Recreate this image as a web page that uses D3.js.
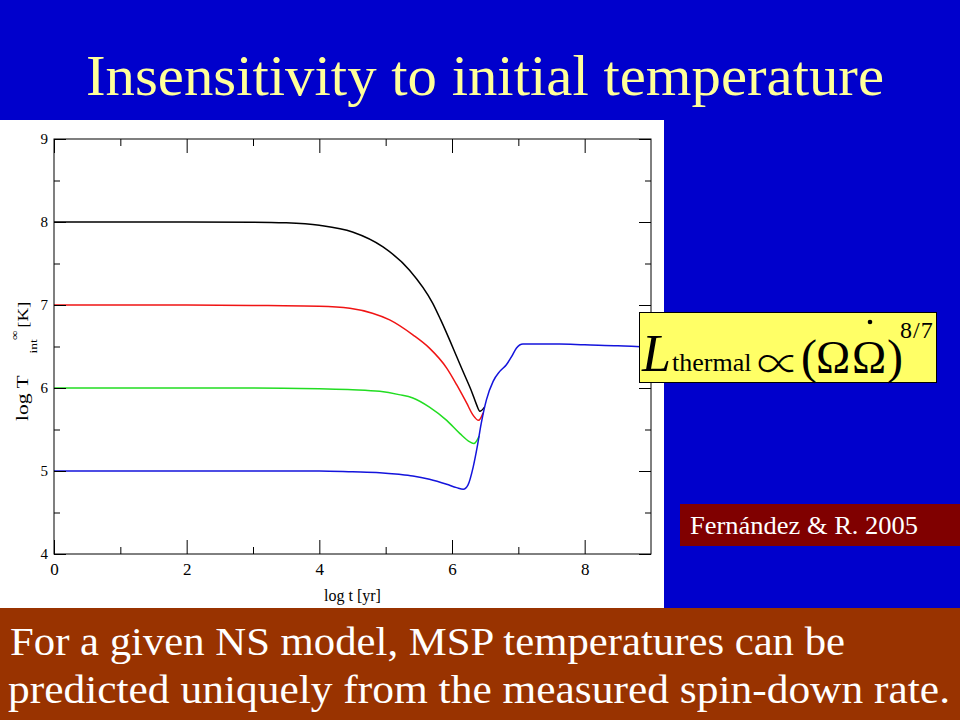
<!DOCTYPE html>
<html>
<head>
<meta charset="utf-8">
<script src="https://cdn.jsdelivr.net/npm/d3@7"></script>
<style>
html,body{margin:0;padding:0;background:#0000CC;}
svg{display:block;}
text{font-family:"Liberation Serif","Times New Roman",serif;}
</style>
</head>
<body>
<svg id="c" width="960" height="720"></svg>
<script>
// ---- data ----
const xTicksMajor = [0, 2, 4, 6, 8];
const xTicksMinor = [1, 3, 5, 7];
const yTicksMajor = [4, 5, 6, 7, 8, 9];
const yTicksMinor = [4.5, 5.5, 6.5, 7.5, 8.5];

const tBlack = [0, 1, 2, 3, 3.5, 4, 4.5, 4.96, 5.36, 5.71, 5.83, 6.07, 6.16, 6.3, 6.37, 6.42, 6.49];
const TBlack = [8, 8, 8, 7.998, 7.99, 7.96, 7.88, 7.7, 7.42, 7.02, 6.82, 6.38, 6.21, 5.95, 5.8, 5.72, 5.77];

const tRed = [0, 1, 2, 3, 4, 4.46, 4.8, 5.06, 5.41, 5.66, 5.92, 6.07, 6.22, 6.32, 6.4, 6.47];
const TRed = [7, 7, 7, 6.995, 6.985, 6.96, 6.9, 6.82, 6.64, 6.48, 6.24, 6.04, 5.82, 5.67, 5.61, 5.7];

const tGreen = [0, 1, 2, 3, 4, 4.5, 4.91, 5.2, 5.41, 5.66, 5.92, 6.12, 6.27, 6.33, 6.41];
const TGreen = [6, 6, 6, 6, 5.99, 5.98, 5.96, 5.92, 5.88, 5.77, 5.61, 5.45, 5.35, 5.33, 5.42];

const tBlue = [0, 1, 2, 3, 4, 4.5, 4.91, 5.2, 5.41, 5.66, 5.92, 6.07, 6.17, 6.24, 6.32, 6.38, 6.44, 6.52, 6.62, 6.72, 6.82, 6.9, 6.97, 7.07, 7.62, 8, 8.5, 9];
const TBlue = [5, 5, 5, 5, 5, 4.99, 4.98, 4.96, 4.94, 4.9, 4.84, 4.8, 4.78, 4.83, 5.05, 5.29, 5.57, 5.86, 6.08, 6.2, 6.28, 6.38, 6.48, 6.53, 6.53, 6.52, 6.51, 6.49];

const seriesNames = ["black", "red", "green", "blue"];
const seriesColors = ["#000000", "#f01414", "#22dd22", "#1414dc"];

const titleText = "Insensitivity to initial temperature";
const bottomLines = ["For a given NS model, MSP temperatures can be",
                     "predicted uniquely from the measured spin-down rate."];
const citeText = "Fernández & R. 2005";

// ---- drawing ----
const svg = d3.select("#c");
svg.append("rect").attr("width", 960).attr("height", 720).attr("fill", "#0000CC");

// title
svg.append("text").attr("x", 485).attr("y", 95).attr("text-anchor", "middle")
  .attr("font-size", 58).attr("fill", "#FFFF99")
  .attr("textLength", 798).attr("lengthAdjust", "spacingAndGlyphs")
  .text(titleText);

// white panel
svg.append("rect").attr("x", 0).attr("y", 120).attr("width", 664).attr("height", 488).attr("fill", "#ffffff");

// bottom brown band
svg.append("rect").attr("x", 0).attr("y", 608).attr("width", 960).attr("height", 112).attr("fill", "#993300");
svg.append("text").attr("x", 10).attr("y", 655).attr("font-size", 41).attr("fill", "#ffffff")
  .attr("textLength", 835).attr("lengthAdjust", "spacingAndGlyphs").text(bottomLines[0]);
svg.append("text").attr("x", 8).attr("y", 703).attr("font-size", 41).attr("fill", "#ffffff")
  .attr("textLength", 942).attr("lengthAdjust", "spacingAndGlyphs").text(bottomLines[1]);

// plot
const L = 54, R = 651, T = 139, B = 554;
const x = d3.scaleLinear().domain([0, 9]).range([L, R]);
const y = d3.scaleLinear().domain([4, 9]).range([B, T]);

const g = svg.append("g");

const line = d3.line().x(d => x(d[0])).y(d => y(d[1])).curve(d3.curveMonotoneX);
const allT = [tBlack, tRed, tGreen, tBlue];
const allV = [TBlack, TRed, TGreen, TBlue];
allT.forEach((ts, i) => {
  const pts = ts.map((t, j) => [t, allV[i][j]]);
  g.append("path").datum(pts).attr("d", line)
    .attr("fill", "none").attr("stroke", seriesColors[i]).attr("stroke-width", 1.5)
    .attr("class", "series-" + seriesNames[i]);
});

function styleAxis(sel) {
  sel.selectAll(".domain").remove();
  sel.selectAll("line").attr("stroke", "#000").attr("stroke-width", 1);
  sel.selectAll("text").attr("fill", "#000");
}

// bottom
g.append("g").attr("transform", `translate(0,${B})`)
  .call(d3.axisBottom(x).tickValues(xTicksMajor).tickSize(-14).tickPadding(9).tickFormat(d3.format("d")))
  .call(styleAxis).selectAll("text").attr("font-size", 17);
g.append("g").attr("transform", `translate(0,${B})`)
  .call(d3.axisBottom(x).tickValues(xTicksMinor).tickSize(-7).tickFormat(""))
  .call(styleAxis);
// top
g.append("g").attr("transform", `translate(0,${T})`)
  .call(d3.axisTop(x).tickValues(xTicksMajor).tickSize(-14).tickFormat(""))
  .call(styleAxis);
g.append("g").attr("transform", `translate(0,${T})`)
  .call(d3.axisTop(x).tickValues(xTicksMinor).tickSize(-7).tickFormat(""))
  .call(styleAxis);
// left
g.append("g").attr("transform", `translate(${L},0)`)
  .call(d3.axisLeft(y).tickValues(yTicksMajor).tickSize(-12).tickPadding(6).tickFormat(d3.format("d")))
  .call(styleAxis).selectAll("text").attr("font-size", 15);
g.append("g").attr("transform", `translate(${L},0)`)
  .call(d3.axisLeft(y).tickValues(yTicksMinor).tickSize(-6).tickFormat(""))
  .call(styleAxis);
// right
g.append("g").attr("transform", `translate(${R},0)`)
  .call(d3.axisRight(y).tickValues(yTicksMajor).tickSize(-12).tickFormat(""))
  .call(styleAxis);
g.append("g").attr("transform", `translate(${R},0)`)
  .call(d3.axisRight(y).tickValues(yTicksMinor).tickSize(-6).tickFormat(""))
  .call(styleAxis);

// frame
g.append("rect").attr("x", L).attr("y", T).attr("width", R - L).attr("height", B - T)
  .attr("fill", "none").attr("stroke", "#000").attr("stroke-width", 1);

// axis titles
g.append("text").attr("x", (L + R) / 2).attr("y", 601).attr("text-anchor", "middle")
  .attr("font-size", 16).attr("fill", "#000").text("log t [yr]");

const yt = g.append("text").attr("transform", "translate(28,421) rotate(-90) scale(1.35,1)")
  .attr("font-size", 16).attr("fill", "#000");
yt.append("tspan").attr("x", 0).attr("y", 0).text("log T");
yt.append("tspan").attr("x", 50).attr("y", 9).attr("font-size", 10).text("int");
yt.append("tspan").attr("x", 60).attr("y", -10).attr("font-size", 10).text("∞");
yt.append("tspan").attr("x", 69).attr("y", 0).attr("font-size", 14).text("[K]");

// formula box
const fb = svg.append("g");
fb.append("rect").attr("x", 639.5).attr("y", 312.5).attr("width", 297).attr("height", 70)
  .attr("fill", "#FFFF66").attr("stroke", "#000").attr("stroke-width", 1);
const ft = fb.append("text").attr("fill", "#000");
ft.append("tspan").attr("x", 642).attr("y", 371).attr("font-size", 52).attr("font-style", "italic").text("L");
ft.append("tspan").attr("x", 672).attr("y", 371).attr("font-size", 26).text("thermal");
ft.append("tspan").attr("x", 757).attr("y", 380)
  .style("font-size", "43px").style("font-family", "'Noto Sans CJK JP'").style("font-weight", "300").text("∝");
ft.append("tspan").attr("x", 801).attr("y", 373).attr("font-size", 48).text("(");
ft.append("tspan").attr("x", 816).attr("y", 373).attr("font-size", 46).text("Ω");
ft.append("tspan").attr("x", 852).attr("y", 373).attr("font-size", 46).text("Ω");
ft.append("tspan").attr("x", 887).attr("y", 373).attr("font-size", 48).text(")");
ft.append("tspan").attr("x", 900).attr("y", 338).attr("font-size", 24).attr("letter-spacing", 1).text("8/7");
fb.append("circle").attr("cx", 870).attr("cy", 322).attr("r", 2.3).attr("fill", "#000");

// citation
svg.append("rect").attr("x", 680).attr("y", 504).attr("width", 280).attr("height", 42).attr("fill", "#800000");
svg.append("text").attr("x", 690).attr("y", 534).attr("font-size", 26).attr("fill", "#ffffff")
  .attr("textLength", 228).attr("lengthAdjust", "spacingAndGlyphs").text(citeText);
</script>
</body>
</html>
